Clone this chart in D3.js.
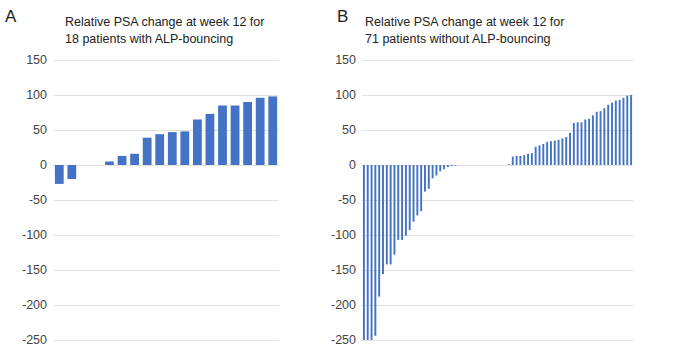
<!DOCTYPE html>
<html lang="en">
<head>
<meta charset="utf-8">
<title>Relative PSA change at week 12</title>
<script src="https://d3js.org/d3.v7.min.js"></script>
<style>
  body { margin: 0; background: white; }
  svg text { font-family: "Liberation Sans", Arial, sans-serif; }
</style>
</head>
<body>
<div id="chart"></div>
<script>
// panel labels and titles
var panelLetters = ["A", "B"];
var titlesA = ["Relative PSA change at week 12 for", "18 patients with ALP-bouncing"];
var titlesB = ["Relative PSA change at week 12 for", "71 patients without ALP-bouncing"];
var yTicks = [150, 100, 50, 0, -50, -100, -150, -200, -250];

// relative PSA change (%), one value per patient, sorted
var psaA = [-27, -20, 0, 0, 5, 13, 16, 39, 44, 47, 48, 65, 73, 85, 85, 90, 96, 98];
var psaB = [-250, -250, -250, -244, -188, -156, -142, -142, -128, -107, -107, -101, -93,
            -81, -72, -66, -38, -34, -19, -15, -9, -6, -3, -1.5, -1,
            0, 0, 0, 0, 0, 0, 0, 0, 0, 0, 0, 0, 0,
            1, 12, 13, 13, 14, 16, 17, 26, 28, 30, 33, 34, 35, 36, 38, 40, 46,
            60, 61, 61, 65, 66, 71, 76, 77, 81, 86, 89, 92, 93, 96, 99, 100];

var W = 676, H = 349;
var svg = d3.select("#chart").append("svg")
    .attr("width", W)
    .attr("height", H);

var y = d3.scaleLinear().domain([-250, 150]).range([340, 60]);

function drawPanel(letter, titles, data, left, right, letterX, titleX, padding) {
  var g = svg.append("g");

  g.append("text")
    .attr("x", letterX)
    .attr("y", 22)
    .style("font-size", "17px")
    .attr("fill", "#222")
    .text(letter);

  g.selectAll(".title")
    .data(titles)
    .enter().append("text")
      .attr("x", titleX)
      .attr("y", function(d, i) { return 26 + i * 17; })
      .style("font-size", "12.5px")
      .attr("fill", "#222")
      .text(function(d) { return d; });

  // gridlines
  g.selectAll(".grid")
    .data(yTicks)
    .enter().append("line")
      .attr("x1", left)
      .attr("x2", right)
      .attr("y1", function(d) { return y(d) + 0.5; })
      .attr("y2", function(d) { return y(d) + 0.5; })
      .attr("stroke", "#e2e2e2")
      .attr("stroke-width", 1);

  // y labels
  g.selectAll(".ylab")
    .data(yTicks)
    .enter().append("text")
      .attr("x", left - 6)
      .attr("y", function(d) { return y(d); })
      .attr("text-anchor", "end")
      .attr("dominant-baseline", "central")
      .style("font-size", "12.5px")
      .attr("fill", "#444")
      .text(function(d) { return d; });

  var x = d3.scaleBand()
    .domain(d3.range(data.length))
    .range([left, right])
    .paddingInner(padding)
    .paddingOuter(padding / 2);

  g.selectAll(".bar")
    .data(data)
    .enter().append("rect")
      .attr("x", function(d, i) { return x(i); })
      .attr("width", x.bandwidth())
      .attr("y", function(d) { return y(Math.max(0, d)); })
      .attr("height", function(d) { return Math.abs(y(d) - y(0)); })
      .attr("fill", "#4472c4");
}

drawPanel(panelLetters[0], titlesA, psaA, 53, 279, 5, 65, 0.3);
drawPanel(panelLetters[1], titlesB, psaB, 362, 633, 337, 365, 0.5);
</script>
</body>
</html>
